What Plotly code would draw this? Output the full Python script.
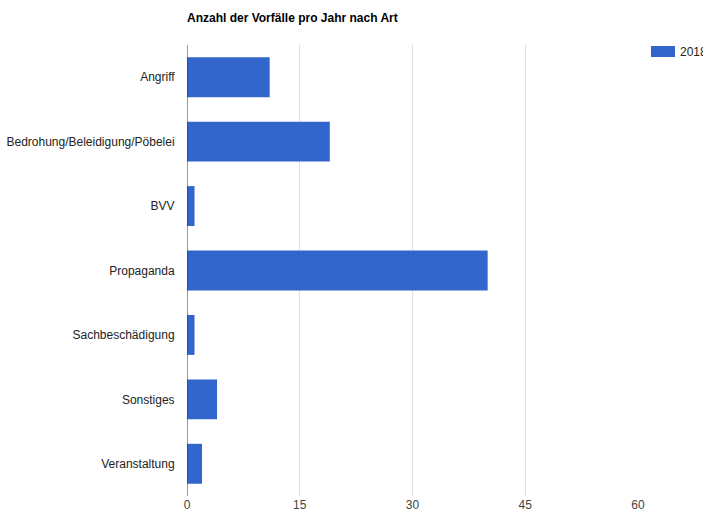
import plotly.graph_objects as go

title = "Anzahl der Vorfälle pro Jahr nach Art"
categories = ["Angriff", "Bedrohung/Beleidigung/Pöbelei", "BVV", "Propaganda",
              "Sachbeschädigung", "Sonstiges", "Veranstaltung"]
values_2018 = [11, 19, 1, 40, 1, 4, 2]
series_name = "2018"
x_ticks = [0, 15, 30, 45, 60]

BLUE = "#3366cc"
FONT = "Liberation Sans, Arial, sans-serif"

fig = go.Figure()
fig.add_trace(go.Bar(
    y=categories, x=values_2018, orientation="h", name=series_name,
    marker=dict(color=BLUE, line=dict(width=0)), showlegend=False,
))

fig.update_layout(
    width=703, height=517,
    margin=dict(l=187, r=65, t=45, b=21, autoexpand=False),
    paper_bgcolor="white", plot_bgcolor="white",
    font=dict(family=FONT, size=12, color="#222222"),
    bargap=0.38,
    xaxis=dict(
        range=[0, 60], tickvals=x_ticks, ticktext=[str(t) for t in x_ticks],
        showgrid=True, gridcolor="#e0e0e0", gridwidth=1,
        zeroline=False, showline=False, automargin=False,
        tickfont=dict(color="#444444", size=12),
        ticks="", 
        fixedrange=True,
    ),
    yaxis=dict(
        autorange="reversed", showgrid=False, zeroline=False, showline=False,
        automargin=False,
        tickfont=dict(color="#222222", size=12),
        ticks="outside", ticklen=9, tickcolor="rgba(0,0,0,0)",
    ),
    shapes=[
        dict(type="line", xref="x", yref="paper", x0=0, x1=0, y0=0, y1=1,
             line=dict(color="#333333", width=1)),
        dict(type="rect", xref="paper", yref="paper",
             x0=(651 - 187) / 451, x1=(675 - 187) / 451,
             y0=(496 - 57) / 451, y1=(496 - 46) / 451,
             fillcolor=BLUE, line=dict(width=0)),
    ],
    annotations=[
        dict(text="<b>" + title + "</b>", xref="paper", yref="paper",
             x=-2 / 451, y=(496 - 18) / 451, xanchor="left", yanchor="middle",
             showarrow=False, font=dict(size=12, color="#000000")),
        dict(text=series_name, xref="paper", yref="paper",
             x=(678 - 187) / 451, y=(496 - 51.5) / 451, xanchor="left", yanchor="middle",
             showarrow=False, font=dict(size=12, color="#222222")),
    ],
)

fig.write_html("out.html")
